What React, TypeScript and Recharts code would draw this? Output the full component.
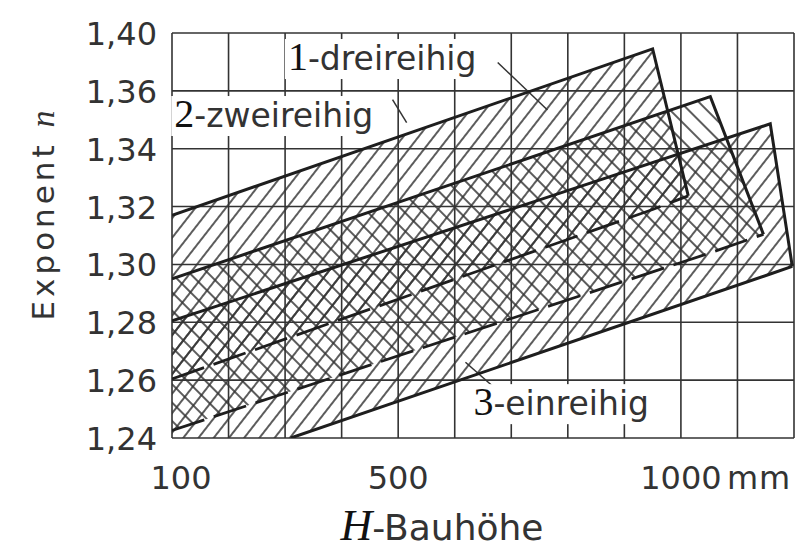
import {
  ComposedChart,
  Area,
  Scatter,
  XAxis,
  YAxis,
  CartesianGrid,
  ReferenceDot,
  ReferenceLine,
  Label,
} from "recharts";

// axis ticks (mm / exponent n)
const xTicks = [100, 200, 300, 400, 500, 600, 700, 800, 900, 1000, 1100, 1200];
const xLabelValues = [100, 500, 1000];
const xLabelTexts = ["100", "500", "1000"];
const xUnit = "mm";
const yTicks = [1.24, 1.26, 1.28, 1.3, 1.32, 1.34, 1.36, 1.38];
const yTickLabels = ["1,24", "1,26", "1,28", "1,30", "1,32", "1,34", "1,36", "1,40"];

// band 1 - dreireihig
const dreiX = [100, 950, 1013];
const dreiLow = [1.2604, 1.319, 1.3237];
const dreiHigh = [1.317, 1.3745, 1.3237];

// band 2 - zweireihig
const zweiX = [100, 1052, 1146];
const zweiLow = [1.2426, 1.304, 1.3104];
const zweiHigh = [1.295, 1.358, 1.3104];

// band 3 - einreihig
const einX = [100, 310, 1158, 1197];
const einLow = [1.24, 1.24, 1.2967, 1.2993];
const einHigh = [1.2805, 1.294, 1.3486, 1.2993];

const bandNumbers = ["1", "2", "3"];
const bandNames = ["dreireihig", "zweireihig", "einreihig"];

const INK = "#333";
const SANS = "'DejaVu Sans', sans-serif";
const SERIF = "'Liberation Serif', 'DejaVu Serif', serif";

// merge the three bands into one table keyed by x
const rowMap = new Map<number, any>();
function addBand(key: string, xs: number[], lo: number[], hi: number[]) {
  xs.forEach((x, i) => {
    const r = rowMap.get(x) ?? { x };
    r[key] = [lo[i], hi[i]];
    rowMap.set(x, r);
  });
}
addBand("drei", dreiX, dreiLow, dreiHigh);
addBand("zwei", zweiX, zweiLow, zweiHigh);
addBand("ein", einX, einLow, einHigh);
const table = [...rowMap.values()].sort((a, b) => a.x - b.x);

const edge = (xs: number[], ys: number[]) => xs.map((x, i) => ({ x, y: ys[i] }));

const noDot = () => <g />;

function XTick(props: any) {
  const { x, y, payload } = props;
  const i = xLabelValues.indexOf(payload.value);
  if (i < 0) return <g />;
  const last = i === xLabelValues.length - 1;
  return (
    <g fontFamily={SANS} fontSize={32} fill={INK}>
      <text x={x + (i === 0 ? 9 : 0)} y={y + 51} textAnchor="middle">
        {xLabelTexts[i]}
      </text>
      {last && (
        <text x={x + 46} y={y + 51} textAnchor="start" letterSpacing={1}>
          {xUnit}
        </text>
      )}
    </g>
  );
}

function YTick(props: any) {
  const { x, y, index } = props;
  return (
    <text x={x - 15} y={y + 12} textAnchor="end" fontFamily={SANS} fontSize={32} fill={INK}>
      {yTickLabels[index]}
    </text>
  );
}

function bandLabel(i: number, boxW: number) {
  return (p: any) => (
    <g>
      <rect x={p.cx - 3} y={p.cy - 31} width={boxW} height={40} fill="#fff" />
      <text x={p.cx} y={p.cy} fill={INK}>
        <tspan fontFamily={SERIF} fontSize={40} fill="#111">
          {bandNumbers[i]}
        </tspan>
        <tspan fontFamily={SANS} fontSize={33}>
          -{bandNames[i]}
        </tspan>
      </text>
    </g>
  );
}

function XTitle(props: any) {
  const { x, y, width } = props.viewBox;
  return (
    <text x={x + width / 2 - 41} y={y + 102} textAnchor="middle" fill={INK}>
      <tspan fontFamily={SERIF} fontStyle="italic" fontSize={44} fill="#111">
        H
      </tspan>
      <tspan fontFamily={SANS} fontSize={36}>
        -Bauhöhe
      </tspan>
    </text>
  );
}

function YTitle(props: any) {
  const { y, height } = props.viewBox;
  const cx = 54;
  const cy = y + height / 2 - 20;
  return (
    <text
      x={cx}
      y={cy}
      textAnchor="middle"
      transform={`rotate(-90, ${cx}, ${cy})`}
      fill={INK}
    >
      <tspan fontFamily={SANS} fontSize={31} letterSpacing={4}>
        Exponent{" "}
      </tspan>
      <tspan fontFamily={SERIF} fontStyle="italic" fontSize={34}>
        n
      </tspan>
    </text>
  );
}

const outline = { stroke: "#1e1e1e", strokeWidth: 3, fill: "none" };
const dashed = { ...outline, strokeWidth: 2.8, strokeDasharray: "34 10" };

export default function App() {
  return (
    <div style={{ position: "absolute", left: 0, top: 0, background: "#fff" }}>
      <ComposedChart
        width={804}
        height={560}
        data={table}
        margin={{ top: 33, right: 10, bottom: 62, left: 92 }}
      >
        <defs>
          <pattern id="hatchUp" width="12" height="12" patternUnits="userSpaceOnUse" patternTransform="rotate(38)">
            <line x1="6" y1="0" x2="6" y2="12" stroke="#333" strokeWidth={1.6} />
          </pattern>
          <pattern id="hatchDown" width="13" height="13" patternUnits="userSpaceOnUse" patternTransform="rotate(-45)">
            <line x1="6" y1="0" x2="6" y2="13" stroke="#333" strokeWidth={1.6} />
          </pattern>
        </defs>
        <CartesianGrid stroke="#333" strokeWidth={1.6} />
        <XAxis
          type="number"
          dataKey="x"
          domain={[100, 1200]}
          ticks={xTicks}
          interval={0}
          allowDataOverflow
          axisLine={false}
          tickLine={false}
          tickSize={0}
          tickMargin={0}
          height={60}
          tick={<XTick />}
          label={<Label content={<XTitle />} />}
        />
        <YAxis
          type="number"
          domain={[1.24, 1.38]}
          ticks={yTicks}
          interval={0}
          allowDataOverflow
          axisLine={false}
          tickLine={false}
          tickSize={0}
          tickMargin={0}
          width={80}
          tick={<YTick />}
          label={<Label content={<YTitle />} />}
        />
        <Area dataKey="ein" type="linear" stroke="none" fill="url(#hatchUp)" fillOpacity={1} connectNulls isAnimationActive={false} />
        <Area dataKey="zwei" type="linear" stroke="none" fill="url(#hatchDown)" fillOpacity={1} connectNulls isAnimationActive={false} />
        <Area dataKey="drei" type="linear" stroke="none" fill="url(#hatchUp)" fillOpacity={1} connectNulls isAnimationActive={false} />

        <Scatter data={edge(dreiX, dreiHigh)} dataKey="y" line={outline} lineType="joint" shape={noDot} isAnimationActive={false} />
        <Scatter data={edge(dreiX, dreiLow)} dataKey="y" line={dashed} lineType="joint" shape={noDot} isAnimationActive={false} />
        <Scatter data={edge(zweiX, zweiHigh)} dataKey="y" line={outline} lineType="joint" shape={noDot} isAnimationActive={false} />
        <Scatter data={edge(zweiX, zweiLow)} dataKey="y" line={dashed} lineType="joint" shape={noDot} isAnimationActive={false} />
        <Scatter data={edge(einX, einHigh)} dataKey="y" line={outline} lineType="joint" shape={noDot} isAnimationActive={false} />
        <Scatter data={edge(einX.slice(1), einLow.slice(1))} dataKey="y" line={outline} lineType="joint" shape={noDot} isAnimationActive={false} />

        <ReferenceLine segment={[{ x: 676, y: 1.3698 }, { x: 764, y: 1.3534 }]} stroke={INK} strokeWidth={1.5} ifOverflow="visible" />
        <ReferenceLine segment={[{ x: 490, y: 1.357 }, { x: 515, y: 1.349 }]} stroke={INK} strokeWidth={1.5} ifOverflow="visible" />
        <ReferenceLine segment={[{ x: 619, y: 1.2662 }, { x: 693, y: 1.2535 }]} stroke={INK} strokeWidth={1.5} ifOverflow="visible" />

        <ReferenceDot x={305} y={1.3672} r={0} ifOverflow="visible" shape={bandLabel(0, 206)} />
        <ReferenceDot x={104} y={1.3475} r={0} ifOverflow="visible" shape={bandLabel(1, 214)} />
        <ReferenceDot x={633} y={1.2479} r={0} ifOverflow="visible" shape={bandLabel(2, 190)} />
      </ComposedChart>
    </div>
  );
}
